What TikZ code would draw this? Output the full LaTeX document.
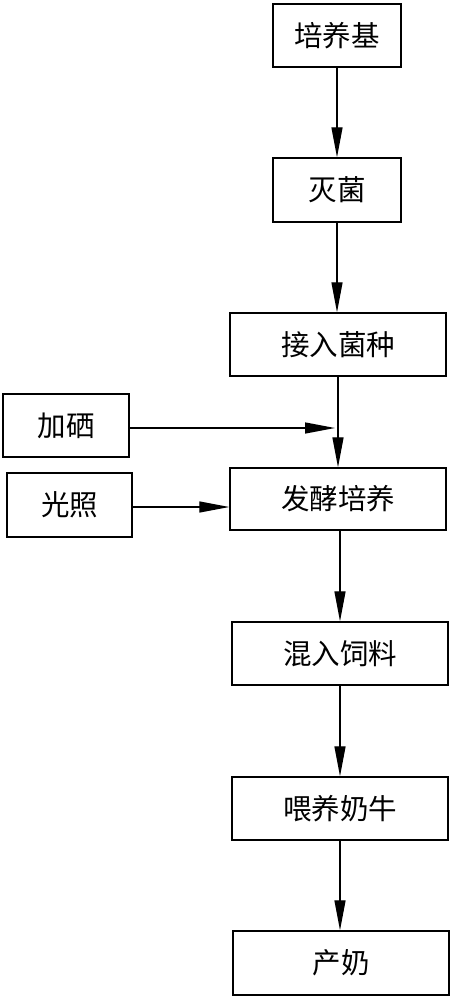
\documentclass[tikz,border=0pt]{standalone}
\usepackage{fontspec}
\newfontfamily\cjk{Noto Sans CJK SC}
\usetikzlibrary{arrows.meta}
\begin{document}
\begin{tikzpicture}[x=1pt,y=-1pt,
  box/.style={draw=black, line width=1.4pt, rectangle, inner sep=0pt, font=\cjk\fontsize{28.5}{31}\selectfont},
  flow/.style={draw=black, line width=1.3pt, -{Triangle[length=30pt,width=11pt]}}]
\useasboundingbox (0,0) rectangle (454,1000);
\node[box, minimum width=128, minimum height=63] (a) at (337,35.5) {培养基};
\node[box, minimum width=128, minimum height=64] (b) at (337,190) {灭菌};
\node[box, minimum width=216, minimum height=63] (c) at (338,344.5) {接入菌种};
\node[box, minimum width=126, minimum height=63] (d) at (66,425.5) {加硒};
\node[box, minimum width=125, minimum height=64] (e) at (69.5,505) {光照};
\node[box, minimum width=216, minimum height=62] (f) at (338,499) {发酵培养};
\node[box, minimum width=216, minimum height=63] (g) at (340,653.5) {混入饲料};
\node[box, minimum width=216, minimum height=63] (h) at (340,808.5) {喂养奶牛};
\node[box, minimum width=216, minimum height=64] (i) at (341,963) {产奶};
\coordinate (se) at (335,428);
\draw[flow] (a.south) -- (b.north);
\draw[flow] (b.south) -- (b.south |- c.north);
\draw[flow] (c.south) -- (f.north);
\draw[flow] (d.east |- se) -- (se);
\draw[flow] (e.east |- 0,507) -- (f.west |- 0,507);
\draw[flow] (f.south -| g.north) -- (g.north);
\draw[flow] (g.south) -- (g.south |- h.north);
\draw[flow] (h.south) -- (h.south |- i.north);
\end{tikzpicture}
\end{document}
